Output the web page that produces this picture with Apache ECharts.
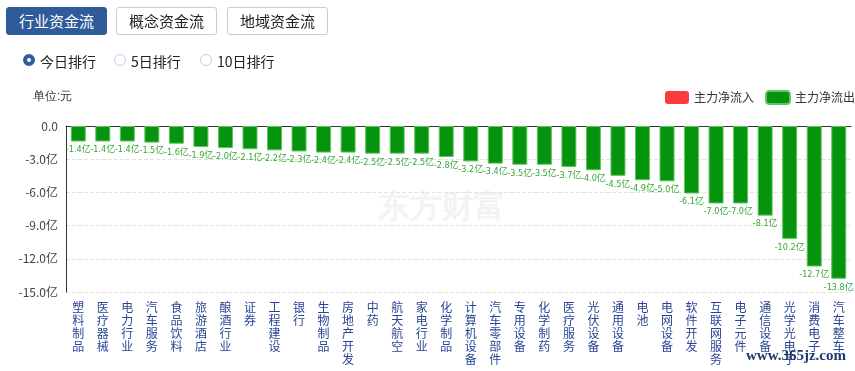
<!DOCTYPE html>
<html>
<head>
<meta charset="utf-8">
<script src="https://cdn.jsdelivr.net/npm/echarts@6/dist/echarts.min.js"></script>
<style>
  html, body { margin:0; padding:0; background:#fff; }
  body { width:855px; height:371px; position:relative; overflow:hidden; font-family:"Microsoft YaHei","Noto Sans CJK SC",sans-serif; }
  #chart { position:absolute; left:0; top:0; width:855px; height:371px; }
  .btn { position:absolute; top:7px; height:26px; width:99px; border:1px solid #b9cfe6; border-radius:3px; box-sizing:content-box;
         font-size:15px; line-height:26px; text-align:center; color:#222; background:#fff; z-index:2; }
  .btn.active { background:#2f5b9a; border-color:#2f5b9a; color:#fff; }
  .radio { position:absolute; top:52px; font-size:14px; line-height:18px; color:#222; z-index:2; }
  .radio i { position:absolute; left:-17px; top:2px; width:12px; height:12px; border-radius:50%; box-sizing:border-box; border:1px solid #b9cfe6; background:#fff; }
  .radio i.on { border:4px solid #2f5b9a; }
</style>
</head>
<body>
<div class="btn active" style="left:6px;">行业资金流</div>
<div class="btn" style="left:116px;">概念资金流</div>
<div class="btn" style="left:227px;">地域资金流</div>
<div class="radio" style="left:40px;"><i class="on"></i>今日排行</div>
<div class="radio" style="left:131px;"><i></i>5日排行</div>
<div class="radio" style="left:217px;"><i></i>10日排行</div>
<div id="chart"></div>
<script>
const categories = ['塑料制品','医疗器械','电力行业','汽车服务','食品饮料','旅游酒店','酿酒行业','证券','工程建设','银行','生物制品','房地产开发','中药','航天航空','家电行业','化学制品','计算机设备','汽车零部件','专用设备','化学制药','医疗服务','光伏设备','通用设备','电池','电网设备','软件开发','互联网服务','电子元件','通信设备','光学光电子','消费电子','汽车整车'];
const netOutflow = [-1.4,-1.4,-1.4,-1.5,-1.6,-1.9,-2.0,-2.1,-2.2,-2.3,-2.4,-2.4,-2.5,-2.5,-2.5,-2.8,-3.2,-3.4,-3.5,-3.5,-3.7,-4.0,-4.5,-4.9,-5.0,-6.1,-7.0,-7.0,-8.1,-10.2,-12.7,-13.8];
const netInflow = [];
const legendNames = ['主力净流入','主力净流出'];
const unitLabel = '单位:元';
const yMin = -15, yMax = 0, yStep = 3;

const chart = echarts.init(document.getElementById('chart'), null, {renderer:'canvas'});
chart.setOption({
  animation:false,
  textStyle:{ fontFamily:'"Microsoft YaHei","Noto Sans CJK SC",sans-serif' },
  graphic:[
    { type:'text', left:33, top:91, style:{ text:unitLabel, fontSize:12, fill:'#333' } },
    { type:'text', left:378, top:192, z:-1, style:{ text:'东方财富', fontSize:32, fontWeight:'bold', fill:'#f3f3f3' } },
    { type:'text', left:746, top:349, z:100, style:{ text:'www.365jz.com', fontSize:15, fontWeight:'bold', fontFamily:'"Liberation Serif",serif', fill:'#1d3a6e' } }
  ],
  legend:{
    data:legendNames, right:0, top:90, padding:0, itemWidth:24, itemHeight:13, itemGap:11,
    textStyle:{ fontSize:12, color:'#333' },
    icon:'roundRect'
  },
  grid:{ left:66, right:4, top:126, bottom:79 },
  xAxis:[
    { type:'category', data:categories, position:'bottom',
      axisLine:{ show:false }, axisTick:{ show:false },
      axisLabel:{ interval:0, margin:9, color:'#2a4596', fontSize:12, lineHeight:13, verticalAlign:'top',
        formatter: v => v.split('').join('\n') } },
    { type:'category', data:categories, position:'top',
      axisLine:{ show:true, onZero:false, lineStyle:{ color:'#333', width:1 } },
      axisTick:{ show:false }, axisLabel:{ show:false } }
  ],
  yAxis:{
    type:'value', min:yMin, max:yMax, interval:yStep,
    axisLine:{ show:true, lineStyle:{ color:'#333' } },
    axisTick:{ show:false },
    axisLabel:{ color:'#444', fontSize:12, margin:8,
      formatter: v => v === 0 ? '0.0' : v.toFixed(1) + '亿' },
    splitLine:{ show:true, lineStyle:{ color:'#e2e2e2', type:'dashed' } }
  },
  series:[
    { name:legendNames[0], type:'bar', data:netInflow, itemStyle:{ color:'#fc3c3c' } },
    { name:legendNames[1], type:'bar', data:netOutflow, xAxisIndex:0, barWidth:15, barGap:'-100%',
      itemStyle:{ color:'#06940e', borderColor:'#62c462', borderWidth:1 },
      label:{ show:true, position:'bottom', distance:4, fontSize:9, color:'#33a833',
        fontFamily:'"Liberation Sans Narrow","DejaVu Sans Condensed","Noto Sans CJK SC",sans-serif',
        formatter: p => p.value.toFixed(1) + '亿' } }
  ]
});
</script>
</body>
</html>
